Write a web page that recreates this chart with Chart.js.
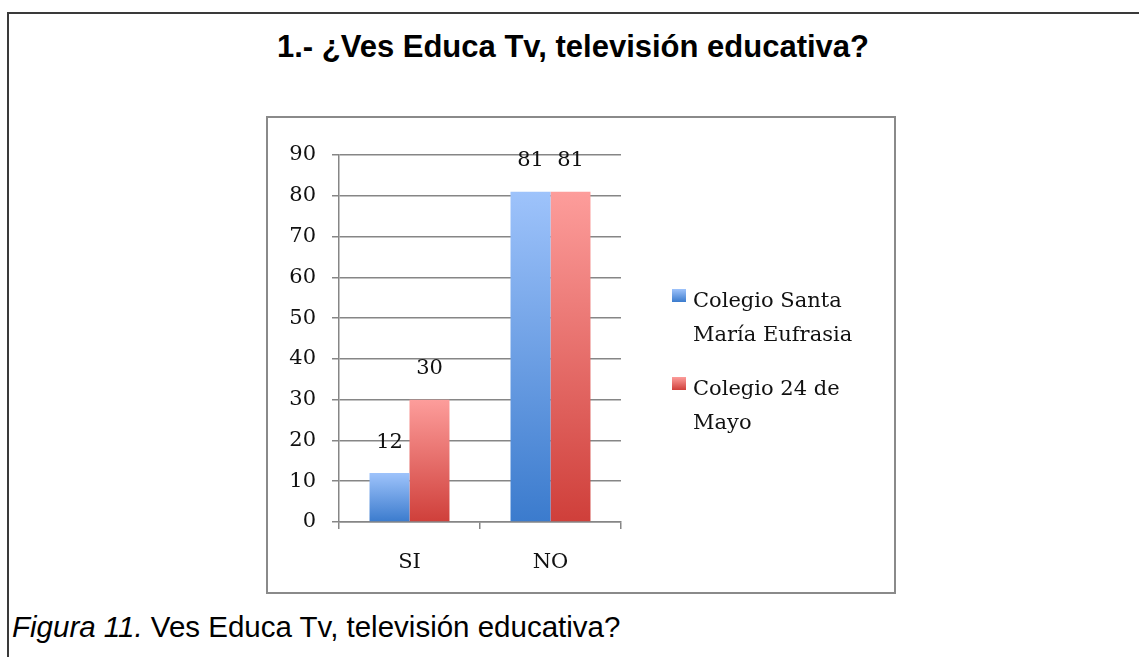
<!DOCTYPE html>
<html lang="es">
<head>
    <meta charset="UTF-8">
    <title>Ves Educa Tv, televisión educativa</title>
    <script src="https://cdn.jsdelivr.net/npm/chart.js"></script>
    <style>
        body {
            margin: 0;
            background: #fff;
            width: 1139px;
            height: 657px;
            position: relative;
            overflow: hidden;
        }
        /* marco de la tabla (solo arriba e izquierda) */
        #marco {
            position: absolute;
            left: 7px;
            top: 12px;
            width: 1140px;
            height: 660px;
            border-top: 2px solid #3a3a3a;
            border-left: 2px solid #3a3a3a;
        }
        #titulo {
            position: absolute;
            left: 0;
            width: 1146px;
            top: 29px;
            text-align: center;
            font: bold 31px "Liberation Sans", Arial, sans-serif;
            color: #000;
        }
        #caja {
            position: absolute;
            left: 266px;
            top: 116px;
            width: 626px;
            height: 474px;
            border: 2px solid #8a8a8a;
        }
        #grafico {
            display: block;
        }
        #pie {
            position: absolute;
            left: 12px;
            top: 610px;
            font: 29.5px "Liberation Sans", Arial, sans-serif;
            color: #000;
        }
    </style>
</head>
<body>
    <div id="marco"></div>
    <div id="titulo">1.- ¿Ves Educa Tv, televisión educativa?</div>

    <div id="caja">
        <canvas id="grafico" width="626" height="474"></canvas>
    </div>

    <div id="pie"><i>Figura 11.</i> Ves Educa Tv, televisión educativa?</div>

    <script>
        // Datos
        const categorias = ['SI', 'NO'];
        const santaMaria = [12, 81];
        const mayo24 = [30, 81];
        const seriesNombres = ['Colegio Santa María Eufrasia', 'Colegio 24 de Mayo'];
        const ejeY = { min: 0, max: 90, paso: 10 };

        const fuenteSerif = '"DejaVu Serif", "Liberation Serif", serif';

        // degradado vertical de cada barra (claro arriba, oscuro abajo)
        function degradado(claro, oscuro) {
            return function (context) {
                const chart = context.chart;
                const y = chart.scales.y;
                if (!chart.chartArea || !y || context.type !== 'data' || !context.parsed) {
                    return oscuro;
                }
                const arriba = y.getPixelForValue(context.parsed.y);
                const abajo = y.getPixelForValue(0);
                const g = chart.ctx.createLinearGradient(0, arriba, 0, abajo);
                g.addColorStop(0, claro);
                g.addColorStop(1, oscuro);
                return g;
            };
        }

        // etiquetas con el valor encima de cada barra
        const etiquetasValor = {
            id: 'etiquetasValor',
            afterDatasetsDraw(chart) {
                const ctx = chart.ctx;
                ctx.save();
                ctx.font = '21px ' + fuenteSerif;
                ctx.fillStyle = '#111';
                ctx.textAlign = 'center';
                ctx.textBaseline = 'middle';
                chart.data.datasets.forEach((ds, i) => {
                    chart.getDatasetMeta(i).data.forEach((barra, j) => {
                        ctx.fillText(ds.data[j], barra.x, barra.y - 31);
                    });
                });
                ctx.restore();
            }
        };

        // leyenda a la derecha, con el texto partido en dos líneas
        const leyenda = {
            id: 'leyenda',
            afterDraw(chart) {
                const ctx = chart.ctx;
                const x = 404, anchoMax = 185, alto = 34;
                let y = 171;
                ctx.save();
                ctx.font = '21px ' + fuenteSerif;
                ctx.textBaseline = 'alphabetic';
                chart.data.datasets.forEach((ds) => {
                    // partir el nombre en líneas
                    const palabras = ds.label.split(' ');
                    const lineas = [];
                    let actual = '';
                    palabras.forEach((p) => {
                        const prueba = actual ? actual + ' ' + p : p;
                        if (ctx.measureText(prueba).width > anchoMax && actual) {
                            lineas.push(actual);
                            actual = p;
                        } else {
                            actual = prueba;
                        }
                    });
                    lineas.push(actual);

                    const g = ctx.createLinearGradient(0, y, 0, y + 13);
                    g.addColorStop(0, ds.colorClaro);
                    g.addColorStop(1, ds.colorOscuro);
                    ctx.fillStyle = g;
                    ctx.fillRect(x, y, 14, 13);

                    ctx.fillStyle = '#111';
                    lineas.forEach((l, k) => {
                        ctx.fillText(l, x + 21, y + 18 + k * alto);
                    });
                    y += 88;
                });
                ctx.restore();
            }
        };

        const ctx = document.getElementById('grafico').getContext('2d');

        new Chart(ctx, {
            type: 'bar',
            data: {
                labels: categorias,
                datasets: [
                    {
                        label: seriesNombres[0],
                        data: santaMaria,
                        colorClaro: '#9ec3fb',
                        colorOscuro: '#3b7bcd',
                        backgroundColor: degradado('#9ec3fb', '#3b7bcd'),
                        borderWidth: 0
                    },
                    {
                        label: seriesNombres[1],
                        data: mayo24,
                        colorClaro: '#fd9d9b',
                        colorOscuro: '#cf3f3a',
                        backgroundColor: degradado('#fd9d9b', '#cf3f3a'),
                        borderWidth: 0
                    }
                ]
            },
            options: {
                responsive: false,
                animation: false,
                categoryPercentage: 0.567,
                barPercentage: 1,
                layout: {
                    padding: { top: 37, right: 273, bottom: 0, left: 0 }
                },
                plugins: {
                    legend: { display: false },
                    tooltip: { enabled: false },
                    title: { display: false }
                },
                scales: {
                    x: {
                        offset: true,
                        afterFit(scale) { scale.height = 70; },
                        grid: {
                            offset: true,
                            drawOnChartArea: false,
                            drawTicks: true,
                            tickLength: 7,
                            color: '#868686',
                            lineWidth: 1.5
                        },
                        border: { color: '#868686', width: 1.5 },
                        ticks: {
                            color: '#111',
                            padding: 21,
                            font: { family: fuenteSerif, size: 21 }
                        }
                    },
                    y: {
                        min: ejeY.min,
                        max: ejeY.max,
                        afterFit(scale) { scale.width = 71; },
                        grid: {
                            color: '#868686',
                            lineWidth: 1.5,
                            tickLength: 7
                        },
                        border: { color: '#868686', width: 1.5 },
                        ticks: {
                            stepSize: ejeY.paso,
                            color: '#111',
                            padding: 16,
                            font: { family: fuenteSerif, size: 21 }
                        }
                    }
                }
            },
            plugins: [etiquetasValor, leyenda]
        });
    </script>
</body>
</html>
